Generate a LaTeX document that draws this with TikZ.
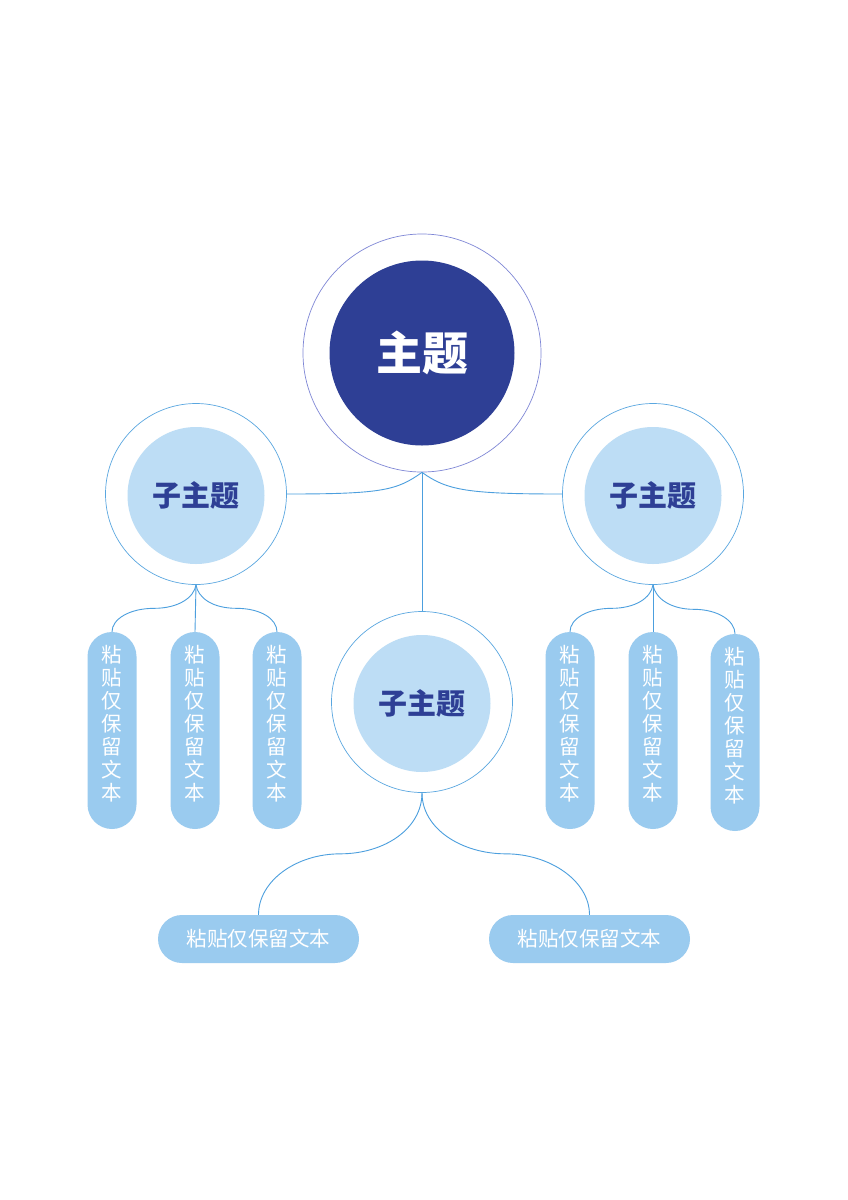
\documentclass[tikz,border=0pt]{standalone}
\usepackage{fontspec}
\newfontfamily\cjk{Noto Sans CJK SC}
\usetikzlibrary{calc}
\definecolor{mainblue}{HTML}{2E3F95}
\definecolor{ringmain}{HTML}{7F87D6}
\definecolor{ringsub}{HTML}{5AA7E0}
\definecolor{subfill}{HTML}{BDDDF5}
\definecolor{pillfill}{HTML}{9ACBEF}
\definecolor{linkcol}{HTML}{4C9FDE}
\tikzset{
  ringmainst/.style={circle,draw=ringmain,line width=0.7pt,fill=white,minimum size=238pt,inner sep=0pt},
  coremain/.style={circle,fill=mainblue,minimum size=185pt,inner sep=0pt,text=white,font=\cjk\bfseries\fontsize{46}{50}\selectfont},
  ringsubst/.style={circle,draw=ringsub,line width=0.7pt,fill=white,minimum size=181pt,inner sep=0pt},
  coresub/.style={circle,fill=subfill,minimum size=137pt,inner sep=0pt,text=mainblue,font=\cjk\bfseries\fontsize{29}{32}\selectfont},
  vpill/.style={rectangle,rounded corners=24.5pt,fill=pillfill,minimum width=49pt,minimum height=197pt,inner sep=0pt},
  vtext/.style={text=white,align=center,inner sep=0pt,font=\cjk\fontsize{20.5}{23}\selectfont},
  hpill/.style={rectangle,rounded corners=24pt,fill=pillfill,minimum width=201pt,minimum height=48pt,inner sep=0pt,text=white,font=\cjk\fontsize{20.5}{24}\selectfont},
  link/.style={draw=linkcol,line width=0.9pt}
}
\begin{document}
\begin{tikzpicture}[x=1pt,y=-1pt]
\useasboundingbox[fill=white] (0,0) rectangle (848,1200);
% main
\node[ringmainst] (mainO) at (422,353) {};
\node[coremain] (mainI) at (422,353) {主题};
% subtopics
\node[ringsubst] (LO) at (196,494) {};
\node[coresub] (LI) at (196,495.5) {子主题};
\node[ringsubst] (RO) at (653,494) {};
\node[coresub] (RI) at (653,495.5) {子主题};
\node[ringsubst] (CO) at (422,702) {};
\node[coresub] (CI) at (422,703.5) {子主题};
% left pills
\foreach \n/\x in {L1/112,L2/195,L3/277}{
  \node[vpill] (\n) at (\x,730.5) {};
  \node[vtext] (\n t) at (\x,724) {粘\\贴\\仅\\保\\留\\文\\本};
}
\foreach \n/\x/\y in {R1/570/730.5,R2/653/730.5,R3/735/732.5}{
  \node[vpill] (\n) at (\x,\y) {};
  \node[vtext] (\n t) at (\x,\y-6.5) {粘\\贴\\仅\\保\\留\\文\\本};
}
\node[hpill] (B1) at (258.5,939) {粘贴仅保留文本};
\node[hpill] (B2) at (589.5,939) {粘贴仅保留文本};
% main connectors
\draw[link] (mainO.south) .. controls +(-25,18) and +(95,0) .. (LO.east);
\draw[link] (mainO.south) .. controls +(25,18) and +(-95,0) .. (RO.west);
\draw[link] (mainO.south) -- (CO.north);
% leaves under side subtopics (s = +1 leaf to the left, -1 leaf to the right)
\foreach \a/\b/\s in {LO/L1/1,LO/L3/-1,RO/R1/1,RO/R3/-1}{
  \coordinate (m\b) at ($(\a.south)!0.5!(\b.north)$);
  \draw[link] (\a.south) .. controls +(-2*\s,13) and +(24*\s,0) .. (m\b)
     .. controls +(-24*\s,0) and +(0,-13) .. (\b.north);
}
\draw[link] (LO.south) -- (L2.north);
\draw[link] (RO.south) -- (R2.north);
% bottom leaves
\foreach \b/\s in {B1/1,B2/-1}{
  \coordinate (m\b) at ($(CO.south)!0.5!(\b.north)$);
  \draw[link] (CO.south) .. controls +(0,36) and +(44*\s,0) .. (m\b)
     .. controls +(-44*\s,0) and +(0,-34) .. (\b.north);
}
\end{tikzpicture}
\end{document}
